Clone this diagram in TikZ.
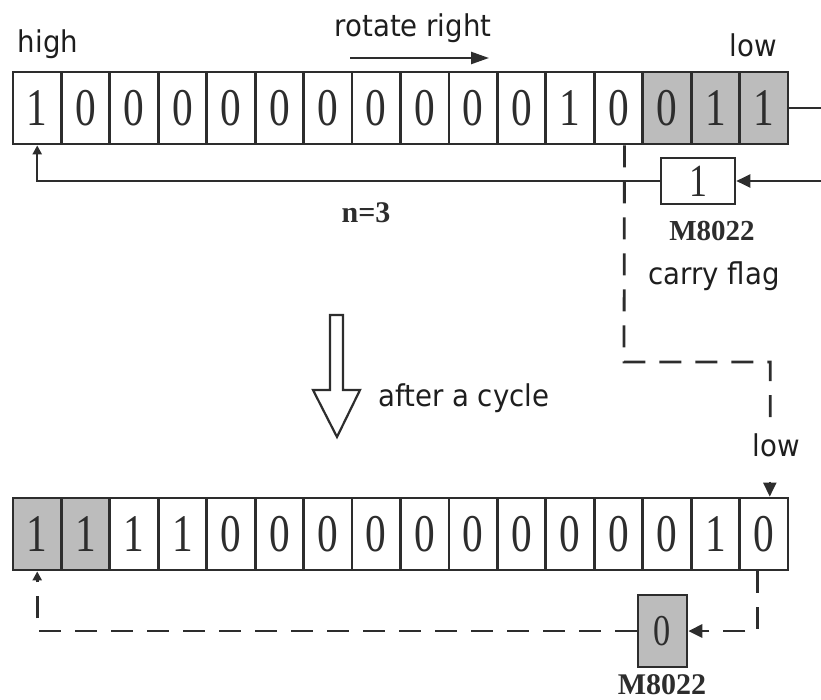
\documentclass[tikz,border=0pt]{standalone}
\usepackage{fontspec}
\setmainfont{Liberation Serif}
\newfontfamily\labfont[FakeStretch=0.92]{DejaVu Sans}
\newfontfamily\digitfont[FakeStretch=0.78]{Liberation Serif}
\usetikzlibrary{arrows.meta,calc}
\definecolor{edge}{RGB}{45,45,45}
\definecolor{gcell}{RGB}{188,188,188}
\definecolor{ink}{RGB}{30,30,30}
\begin{document}
\begin{tikzpicture}[x=1pt,y=-1pt,
  cell/.style={draw=edge,line width=2.8pt,minimum width=48.44pt,minimum height=72pt,inner sep=0pt,
    font=\digitfont\fontsize{53}{53}\selectfont,text=edge},
  carrybox/.style={draw=edge,line width=2.6pt,inner sep=0pt,text=edge},
  lab/.style={font=\labfont\fontsize{30}{30}\selectfont,text=ink,inner sep=0pt},
  boldlab/.style={font=\bfseries\fontsize{30}{30}\selectfont,text=edge,inner sep=0pt},
  conn/.style={draw=edge,line width=2.4pt},
  dsh/.style={draw=edge,line width=2.8pt,dash pattern=on 22pt off 14pt},
  bigtip/.style={-{Triangle[length=14pt,width=13pt]}},
  smalltip/.style={-{Triangle[length=9pt,width=9pt]}}]
\useasboundingbox (0,0) rectangle (821,700);

% top register
\foreach \v/\f [count=\i] in {1/white,0/white,0/white,0/white,0/white,0/white,0/white,0/white,0/white,0/white,0/white,1/white,0/white,0/gcell,1/gcell,1/gcell}
  \node[cell,fill=\f] (t\i) at ({13+48.4375*(\i-0.5)},108) {\v};
% bottom register
\foreach \v/\f [count=\i] in {1/gcell,1/gcell,1/white,1/white,0/white,0/white,0/white,0/white,0/white,0/white,0/white,0/white,0/white,0/white,1/white,0/white}
  \node[cell,fill=\f] (b\i) at ({13+48.4375*(\i-0.5)},534) {\v};

% carry boxes
\node[carrybox,fill=white,minimum width=74pt,minimum height=46pt,font=\digitfont\fontsize{46}{46}\selectfont] (c1) at (698,181) {1};
\node[carrybox,fill=gcell,minimum width=49pt,minimum height=72pt,font=\digitfont\fontsize{44}{44}\selectfont] (c2) at (662.5,631) {0};

% labels
\node[lab] (high) at (48,44) {high};
\node[lab] (rot) at (413,28) {rotate right};
\node[lab] (lowt) at (753,45) {low};
\node[boldlab] (n3) at (366,213) {n=3};
\node[boldlab,font=\bfseries\fontsize{29}{29}\selectfont] (m1) at (712,231) {M8022};
\node[lab] (cf) at (714,276) {carry flag};
\node[lab,anchor=west] (cyc) at (378,398) {after a cycle};
\node[lab] (lowb) at (776,445) {low};
\node[boldlab,font=\bfseries\fontsize{30}{30}\selectfont] (m2) at (662,685) {M8022};

% rotate right arrow
\coordinate (ra) at (350,58);
\coordinate (rb) at (489,58);
\draw[conn,-{Triangle[length=18pt,width=12pt]}] (ra) -- (rb);

% top connectors
\coordinate (rt) at (845,108);
\draw[conn] (t16.east) -- (rt);
\coordinate (rt2) at (845,181);
\draw[conn,bigtip] (rt2) -- (c1.east);
\draw[conn,smalltip] (c1.west) -| (t1.south);

% dashed transfer (interrupted by the "low" label)
\coordinate (ds) at ($(t13.south)+(6,0)$);
\coordinate (dbend) at (624,362);
\coordinate (de) at ($(b16.north)+(6,0)$);
\coordinate (dstop) at (770.2,422);
\coordinate (dpre) at ($(de)+(0,-15)$);
\draw[dsh] (ds) -- (dbend) -| (dstop);
\draw[draw=edge,line width=2pt,bigtip] (dpre) -- (de);

% bottom connectors
\coordinate (bs) at ($(b16.south)+(-6,0)$);
\draw[dsh,bigtip] (bs) |- (c2.east);
\draw[dsh,smalltip] (c2.west) -| (b1.south);

% hollow down arrow
\draw[draw=edge,line width=2.2pt,fill=white,line join=miter] (330,315) -- (343,315) -- (343,390) -- (360,390) -- (337,437) -- (313,390) -- (330,390) -- cycle;
\end{tikzpicture}
\end{document}
